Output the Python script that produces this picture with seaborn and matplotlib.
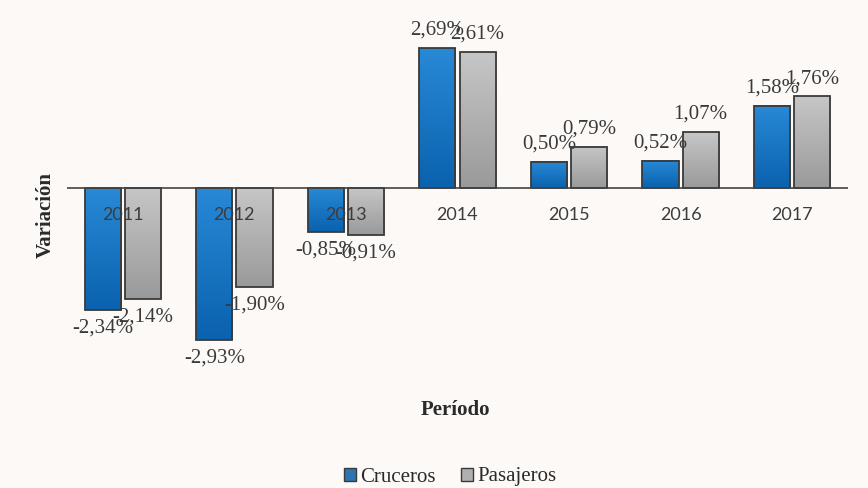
import pandas as pd
import matplotlib
matplotlib.use('Agg')
import matplotlib.pyplot as plt
import seaborn as sns
import numpy as np
from matplotlib.colors import LinearSegmentedColormap

# data
periodos = ['2011', '2012', '2013', '2014', '2015', '2016', '2017']
cruceros = [-2.34, -2.93, -0.85, 2.69, 0.50, 0.52, 1.58]
pasajeros = [-2.14, -1.90, -0.91, 2.61, 0.79, 1.07, 1.76]
series = ['Cruceros', 'Pasajeros']

df = pd.DataFrame({
    'Periodo': periodos * 2,
    'Variacion': cruceros + pasajeros,
    'Serie': ['Cruceros'] * len(periodos) + ['Pasajeros'] * len(periodos),
})

bg = '#fcf9f7'
base_colors = {'Cruceros': '#1876c6', 'Pasajeros': '#b0b0b0'}
grads = {
    'Cruceros': LinearSegmentedColormap.from_list('blu', ['#2889d6', '#0b62ae']),
    'Pasajeros': LinearSegmentedColormap.from_list('gry', ['#c6c6c6', '#9a9a9a']),
}

sns.set_style('white')
plt.rcParams['font.family'] = ['Liberation Serif', 'DejaVu Serif']

fig = plt.figure(figsize=(8.68, 4.88), dpi=100, facecolor=bg)
ax = fig.add_axes([67 / 868, 108 / 488, 781 / 868, 360 / 488])
ax.set_facecolor(bg)

sns.barplot(data=df, x='Periodo', y='Variacion', hue='Serie', hue_order=series,
            palette=base_colors, width=0.72, gap=0.1, edgecolor='#3a3a3a',
            linewidth=1.3, ax=ax)

# gradient fill clipped to each bar, light on top, dark at the bottom
for cont, name in zip(ax.containers, series):
    for patch in cont.patches:
        bb = patch.get_bbox()
        y_lo, y_hi = min(bb.y0, bb.y1), max(bb.y0, bb.y1)
        g = np.linspace(0, 1, 64).reshape(-1, 1)
        ax.imshow(g, extent=[bb.x0, bb.x1, y_lo, y_hi], cmap=grads[name],
                  aspect='auto', origin='upper', zorder=1.5, clip_path=patch)
        patch.set_facecolor('none')
        patch.set_zorder(2)

# value labels
for cont, vals in zip(ax.containers, [cruceros, pasajeros]):
    labs = [f'{v:.2f}%'.replace('.', ',') for v in vals]
    ax.bar_label(cont, labels=labs, padding=6, fontsize=15, color='#3a3a3a')

ax.axhline(0, color='#444444', lw=1.2, zorder=3)
ax.set_xlim(-0.5, 6.5)
ax.set_ylim(-3.69, 3.23)
sns.despine(ax=ax, left=True, bottom=True)
ax.set_axisbelow(False)  # year labels sit on top of the bars
ax.set_yticks([])
ax.tick_params(axis='x', length=0, pad=0)
ax.set_xticks(range(len(periodos)))
ax.set_xticklabels(periodos, family='Lato', fontsize=13, color='#3c3c3c')
for t in ax.get_xticklabels():
    t.set_y(0.48)
ax.set_xlabel('')
ax.set_ylabel('')

fig.text(46 / 868, 1 - 215 / 488, 'Variación', rotation=90, fontsize=15,
         fontweight='bold', color='#2a2a2a', ha='center', va='center')
fig.text(455 / 868, 1 - 410 / 488, 'Período', fontsize=15,
         fontweight='bold', color='#2a2a2a', ha='center', va='center')

handles, labels = ax.get_legend_handles_labels()
for h in handles:
    h.set_edgecolor('#3a3a3a')
    h.set_linewidth(1.0)
if ax.get_legend() is not None:
    ax.get_legend().remove()
fig.legend(handles, labels, loc='center', bbox_to_anchor=(450 / 868, 1 - 477 / 488),
           ncol=2, frameon=False, fontsize=15, handlelength=0.6, handleheight=0.6,
           handletextpad=0.2, columnspacing=1.2, labelcolor='#2a2a2a')

fig.savefig('out.png', dpi=100, facecolor=bg)
